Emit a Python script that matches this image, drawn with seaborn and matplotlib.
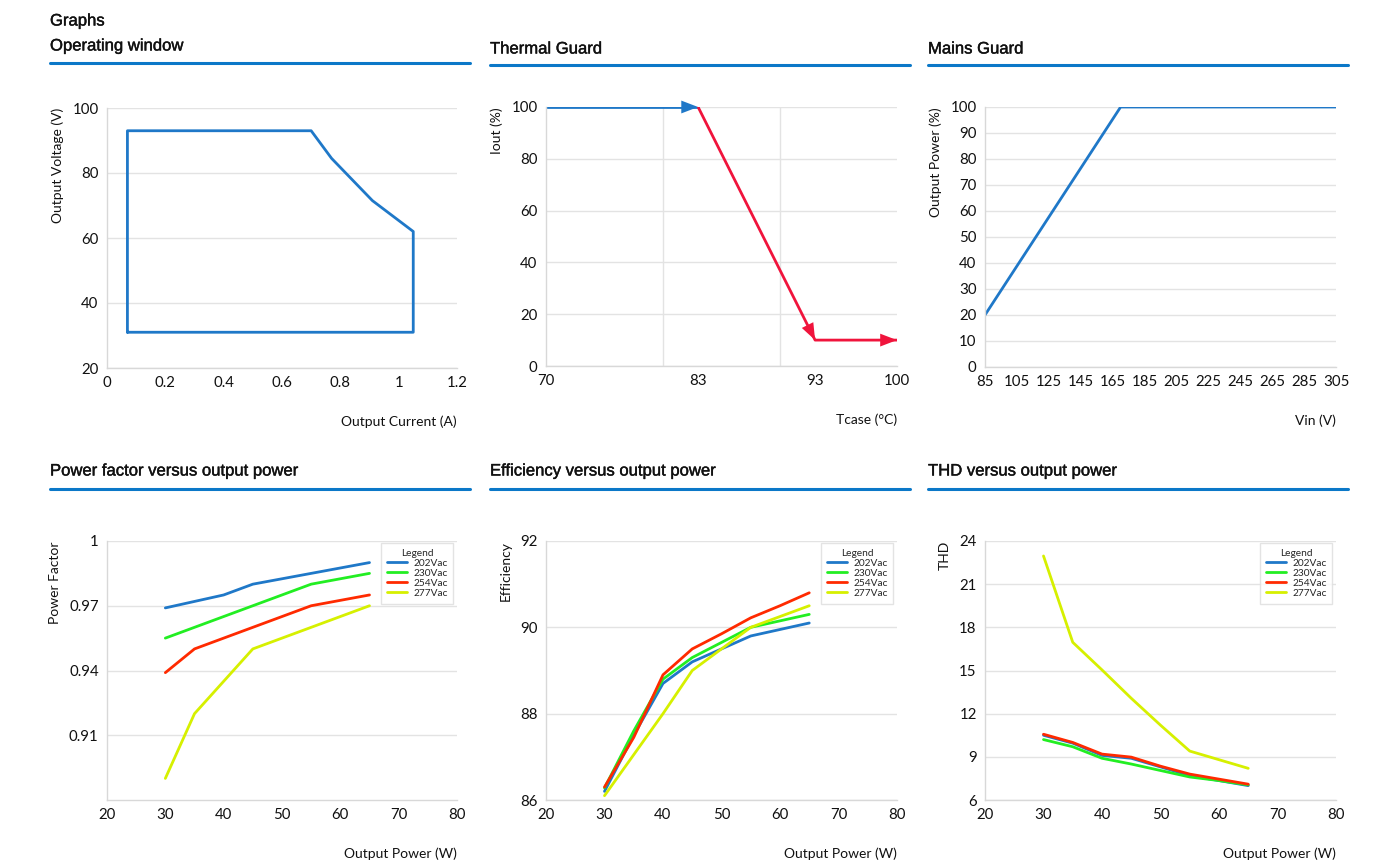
import matplotlib
matplotlib.use("Agg")
import matplotlib.pyplot as plt
import matplotlib.patheffects as pe
from matplotlib.lines import Line2D
import seaborn as sns
import pandas as pd

# ---------------- data ----------------
ow_current = [0.07, 0.07, 0.70, 0.77, 0.91, 1.05, 1.05, 0.07]
ow_voltage = [31, 93, 93, 84.5, 71.5, 62, 31, 31]

tg_blue_t = [70, 83]
tg_blue_i = [100, 100]
tg_red_t = [83, 93, 100]
tg_red_i = [100, 10, 10]
tg_xticks = [70, 83, 93, 100]

mg_vin = [85, 170, 305]
mg_pow = [20, 100, 100]
mg_xticks = [85, 105, 125, 145, 165, 185, 205, 225, 245, 265, 285, 305]

power = [30, 35, 40, 45, 50, 55, 60, 65]
series_names = ["202Vac", "230Vac", "254Vac", "277Vac"]

pf_202 = [0.969, 0.972, 0.975, 0.980, 0.9825, 0.985, 0.9875, 0.990]
pf_230 = [0.955, 0.960, 0.965, 0.970, 0.975, 0.980, 0.9825, 0.985]
pf_254 = [0.939, 0.950, 0.955, 0.960, 0.965, 0.970, 0.9725, 0.975]
pf_277 = [0.890, 0.920, 0.935, 0.950, 0.955, 0.960, 0.965, 0.970]

eff_202 = [86.2, 87.5, 88.7, 89.2, 89.5, 89.8, 89.95, 90.1]
eff_230 = [86.28, 87.6, 88.8, 89.3, 89.65, 90.0, 90.15, 90.3]
eff_254 = [86.3, 87.45, 88.9, 89.5, 89.85, 90.22, 90.5, 90.8]
eff_277 = [86.1, 87.05, 88.0, 89.0, 89.5, 90.0, 90.25, 90.5]

thd_202 = [10.5, 9.95, 9.1, 8.9, 8.3, 7.7, 7.35, 7.0]
thd_230 = [10.2, 9.7, 8.9, 8.5, 8.05, 7.6, 7.35, 7.05]
thd_254 = [10.57, 10.0, 9.19, 8.98, 8.35, 7.8, 7.45, 7.1]
thd_277 = [22.96, 16.96, 15.04, 13.07, 11.2, 9.4, 8.8, 8.2]

titles = ["Operating window", "Thermal Guard", "Mains Guard",
          "Power factor versus output power", "Efficiency versus output power",
          "THD versus output power"]

# ---------------- style ----------------
sns.set_style("white")
plt.rcParams["font.family"] = ["Lato", "DejaVu Sans"]

BLUE = "#1f78c8"
COLORS = ["#1f78c8", "#22ee22", "#ff2a00", "#d6f000"]
TG_RED = "#f0143c"
GRID = "#e3e3e3"
SPINE = "#d8d8d8"
HEAD = "#0b78c8"

W, H = 1400, 867
fig = plt.figure(figsize=(14, 8.67), dpi=100)


def add_axes(left, top, right, bottom):
    return fig.add_axes([left / W, 1 - bottom / H, (right - left) / W, (bottom - top) / H])


def style_axes(ax, xlabel, ylabel, vgrid=False):
    for s in ["top", "right"]:
        ax.spines[s].set_visible(False)
    for s in ["left", "bottom"]:
        ax.spines[s].set_color(SPINE)
        ax.spines[s].set_linewidth(1.0)
    ax.grid(axis="y", color=GRID, linewidth=1.0)
    if vgrid:
        ax.grid(axis="x", color=GRID, linewidth=1.0)
    ax.set_axisbelow(True)
    ax.tick_params(axis="both", colors=SPINE, length=3, width=1, labelsize=10.8,
                   labelcolor="#111111", pad=3)
    ax.set_xlabel(xlabel, loc="right", fontsize=10, color="#111111", labelpad=18)
    ax.set_ylabel(ylabel, loc="top", fontsize=10, color="#111111", labelpad=6)


TITLE_FX = [pe.withStroke(linewidth=0.3, foreground="#111111")]


def title_text(x, y, text):
    fig.text(x / W, 1 - y / H, text, fontsize=12, color="#111111",
             family=["Liberation Sans", "DejaVu Sans"], va="center", ha="left",
             path_effects=TITLE_FX)


def header(x0, x1, y_text, y_line, text):
    title_text(x0, y_text, text)
    fig.add_artist(Line2D([x0 / W, x1 / W], [1 - y_line / H, 1 - y_line / H],
                          color=HEAD, linewidth=2.2, transform=fig.transFigure))


title_text(50, 21, "Graphs")

header(50, 470, 46, 63, titles[0])
header(490, 910, 49, 65, titles[1])
header(928, 1348, 49, 65, titles[2])
header(50, 470, 471, 489, titles[3])
header(490, 910, 471, 489, titles[4])
header(928, 1348, 471, 489, titles[5])

# ---- Operating window ----
ax1 = add_axes(107, 108, 457, 368)
df1 = pd.DataFrame({"I": ow_current, "V": ow_voltage})
sns.lineplot(data=df1, x="I", y="V", sort=False, estimator=None, color=BLUE,
             linewidth=2.0, ax=ax1)
ax1.set_xlim(0, 1.2)
ax1.set_ylim(20, 100)
ax1.set_xticks([0, 0.2, 0.4, 0.6, 0.8, 1.0, 1.2])
ax1.set_xticklabels(["0", "0.2", "0.4", "0.6", "0.8", "1", "1.2"])
ax1.set_yticks([20, 40, 60, 80, 100])
style_axes(ax1, "Output Current (A)", "Output Voltage (V)")

# ---- Thermal Guard ----
ax2 = add_axes(546, 107, 897, 366)
df2b = pd.DataFrame({"T": tg_blue_t, "I": tg_blue_i})
df2r = pd.DataFrame({"T": tg_red_t, "I": tg_red_i})
sns.lineplot(data=df2b, x="T", y="I", sort=False, estimator=None, color=BLUE,
             linewidth=2.0, ax=ax2)
sns.lineplot(data=df2r, x="T", y="I", sort=False, estimator=None, color=TG_RED,
             linewidth=2.0, ax=ax2)
arrow_kw = dict(arrowstyle="-|>,head_length=1.1,head_width=0.42", lw=0,
                shrinkA=0, shrinkB=0, mutation_scale=11)
ax2.annotate("", xy=(tg_blue_t[1], tg_blue_i[1]), xytext=(tg_blue_t[1] - 1.5, tg_blue_i[1]),
             arrowprops=dict(color=BLUE, **arrow_kw))
ax2.annotate("", xy=(tg_red_t[1], tg_red_i[1]),
             xytext=(tg_red_t[1] - 0.6, tg_red_i[1] + 5.4),
             arrowprops=dict(color=TG_RED, **arrow_kw))
ax2.annotate("", xy=(tg_red_t[2], tg_red_i[2]), xytext=(tg_red_t[2] - 1.5, tg_red_i[2]),
             arrowprops=dict(color=TG_RED, **arrow_kw))
ax2.set_xlim(70, 100)
ax2.set_ylim(0, 100)
ax2.set_xticks(tg_xticks)
ax2.set_xticks([80, 90, 100], minor=True)
ax2.set_yticks([0, 20, 40, 60, 80, 100])
style_axes(ax2, "Tcase (°C)", "Iout (%)")
ax2.grid(axis="x", which="minor", color=GRID, linewidth=1.0)
ax2.tick_params(axis="x", which="minor", length=0)

# ---- Mains Guard ----
ax3 = add_axes(985, 107, 1336, 367)
df3 = pd.DataFrame({"Vin": mg_vin, "P": mg_pow})
sns.lineplot(data=df3, x="Vin", y="P", sort=False, estimator=None, color=BLUE,
             linewidth=2.0, ax=ax3)
ax3.set_xlim(85, 305)
ax3.set_ylim(0, 100)
ax3.set_xticks(mg_xticks)
ax3.set_yticks(list(range(0, 101, 10)))
style_axes(ax3, "Vin (V)", "Output Power (%)")


# ---- bottom row ----
def multi(ax, ys, ylim, yticks, ylabel):
    frames = []
    for name, vals in zip(series_names, ys):
        frames.append(pd.DataFrame({"P": power, "v": vals, "Legend": name}))
    df = pd.concat(frames, ignore_index=True)
    sns.lineplot(data=df, x="P", y="v", hue="Legend", palette=COLORS,
                 hue_order=series_names, linewidth=2.0, ax=ax)
    ax.set_xlim(20, 80)
    ax.set_ylim(*ylim)
    ax.set_xticks([20, 30, 40, 50, 60, 70, 80])
    ax.set_yticks(yticks)
    style_axes(ax, "Output Power (W)", ylabel)
    leg = ax.legend(title="Legend", loc="upper right", bbox_to_anchor=(1.004, 1.012),
                    fontsize=7.3, title_fontsize=7.3, frameon=True, fancybox=False,
                    handlelength=2.0, handletextpad=0.6, borderpad=0.55,
                    labelspacing=0.1)
    leg.get_frame().set_edgecolor("#dddddd")
    leg.get_frame().set_linewidth(1.0)
    return ax


ax4 = add_axes(107, 541, 457, 800)
multi(ax4, [pf_202, pf_230, pf_254, pf_277], (0.88, 1.0), [0.91, 0.94, 0.97, 1.0],
      "Power Factor")
ax4.set_yticklabels(["0.91", "0.94", "0.97", "1"])

ax5 = add_axes(546, 541, 897, 800)
multi(ax5, [eff_202, eff_230, eff_254, eff_277], (86, 92), [86, 88, 90, 92], "Efficiency")

ax6 = add_axes(985, 541, 1336, 800)
multi(ax6, [thd_202, thd_230, thd_254, thd_277], (6, 24), [6, 9, 12, 15, 18, 21, 24], "THD")

fig.savefig("out.png", dpi=100, facecolor="white")
